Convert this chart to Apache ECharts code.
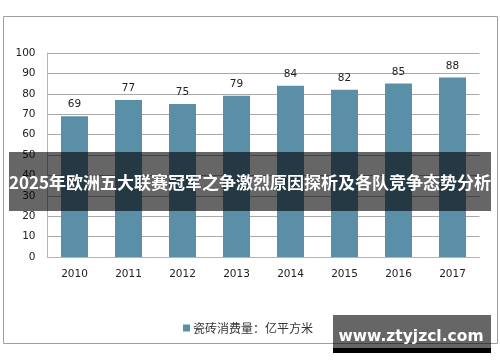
<!DOCTYPE html>
<html><head><meta charset="utf-8">
<script src="https://cdn.jsdelivr.net/npm/echarts@6/dist/echarts.min.js"></script>
<style>html,body{margin:0;padding:0;background:#fff}#c{width:500px;height:362px}</style>
</head><body><div id="c"></div>
<script>
const categories = ['2010','2011','2012','2013','2014','2015','2016','2017'];
const values = [69, 77, 75, 79, 84, 82, 85, 88];
const seriesName = '瓷砖消费量：亿平方米';
const yTicks = {min: 0, max: 100, interval: 10};
const bannerText = '2025年欧洲五大联赛冠军之争激烈原因探析及各队竞争态势分析';
const watermarkText = 'www.ztyjzcl.com';

const chart = echarts.init(document.getElementById('c'), null, {renderer: 'canvas'});
const numFont = 'DejaVu Sans';
chart.setOption({
  animation: false,
  grid: {left: 47.5, right: 20.5, top: 53, bottom: 105, containLabel: false},
  legend: {
    data: [seriesName], left: 178, top: 317, itemWidth: 7, itemHeight: 7, icon: 'rect', itemGap: 5,
    textStyle: {fontSize: 12, color: '#333', fontFamily: 'Noto Sans CJK SC', padding: [0, 0, 0, -2]}
  },
  xAxis: {
    type: 'category', data: categories,
    axisLine: {show: true, lineStyle: {color: '#b4b4b4', width: 1}},
    axisTick: {show: false},
    axisLabel: {color: '#222', fontSize: 10.5, fontFamily: numFont, margin: 12}
  },
  yAxis: {
    type: 'value', min: yTicks.min, max: yTicks.max, interval: yTicks.interval,
    axisLine: {show: true, lineStyle: {color: '#b4b4b4', width: 1}},
    axisTick: {show: false},
    splitLine: {lineStyle: {color: '#a8a8a8', width: 1}},
    axisLabel: {color: '#222', fontSize: 10.5, fontFamily: numFont, margin: 12}
  },
  series: [{
    name: seriesName, type: 'bar', data: values, barWidth: '50%',
    itemStyle: {color: '#5b8fa8'},
    label: {show: true, position: 'top', distance: 6, color: '#222', fontSize: 10.5, fontFamily: numFont}
  }],
  graphic: [
    {type: 'rect', z: 0, silent: true, shape: {x: 3.5, y: 16.5, width: 494, height: 327},
     style: {fill: 'none', stroke: '#a0a0a0', lineWidth: 1}},
    {type: 'rect', z: 100, shape: {x: 9, y: 152, width: 482, height: 59},
     style: {fill: 'rgba(0,0,0,0.6)'}},
    {type: 'text', z: 101, x: 250, y: 183,
     style: {text: bannerText, fill: '#fff', font: 'bold 17px "Noto Sans CJK SC"', textAlign: 'center', textVerticalAlign: 'middle'}},
    {type: 'rect', z: 100, shape: {x: 333, y: 315, width: 158, height: 33},
     style: {fill: 'rgba(0,0,0,0.6)'}},
    {type: 'rect', z: 100, shape: {x: 333, y: 348, width: 158, height: 5},
     style: {fill: '#000'}},
    {type: 'text', z: 101, x: 411, y: 337,
     style: {text: watermarkText, fill: '#fff', font: 'bold 15.5px "DejaVu Sans"', textAlign: 'center', textVerticalAlign: 'middle'}}
  ]
});
</script></body></html>
